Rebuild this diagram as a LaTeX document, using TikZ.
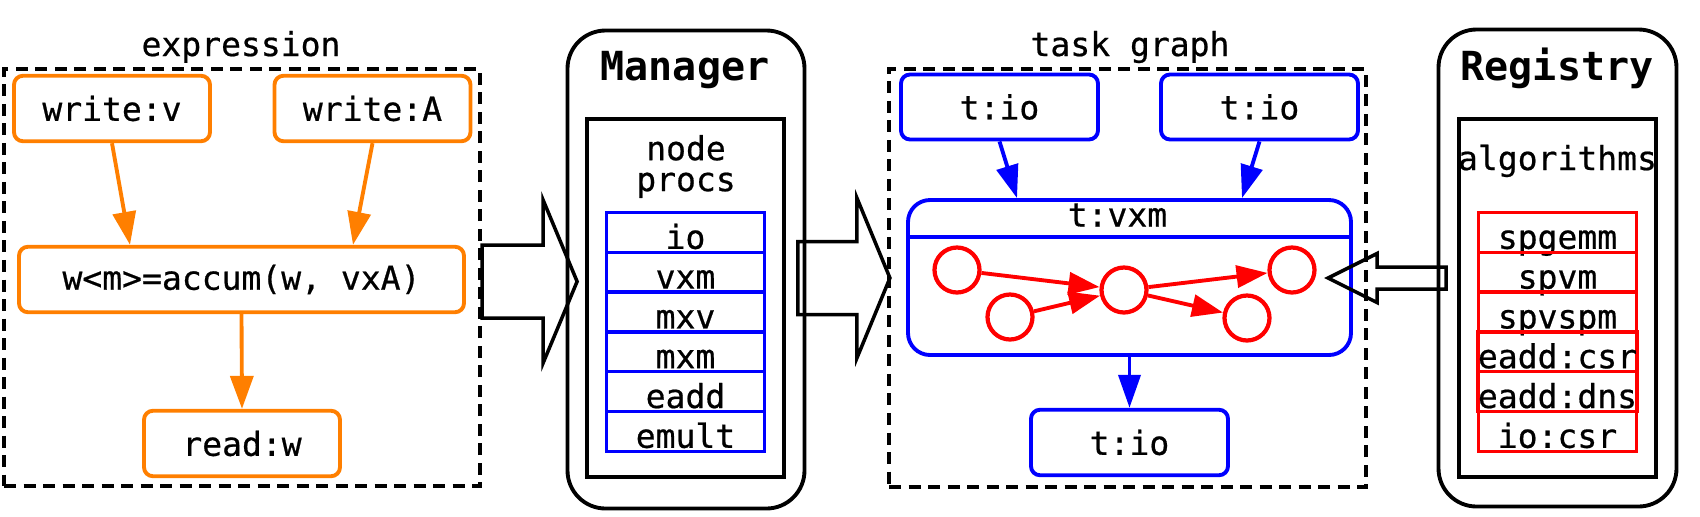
\documentclass[tikz,border=0pt]{standalone}
\usepackage{fontspec}
\setmonofont{DejaVu Sans Mono}[UprightFeatures={FakeBold=0.6}]
\usepackage{tikz}
\usetikzlibrary{positioning,arrows.meta,calc}
\definecolor{OpOrange}{RGB}{255,127,0}
\definecolor{TaskBlue}{RGB}{0,0,255}
\definecolor{AlgoRed}{RGB}{255,0,0}

\begin{document}
\begin{tikzpicture}[
  font=\ttfamily\fontsize{9.4}{11}\selectfont,
  opnode/.style={draw=OpOrange,line width=1.1pt,rounded corners=0.9mm,minimum width=1.96cm,minimum height=0.655cm,inner sep=0pt},
  tasknode/.style={draw=TaskBlue,line width=1.1pt,rounded corners=0.9mm,minimum width=1.97cm,minimum height=0.65cm,inner sep=0pt},
  dashbox/.style={draw,line width=1.2pt,dash pattern=on 1.2mm off 0.75mm},
  servicebox/.style={draw,line width=1.1pt,rounded corners=3.8mm},
  innerbox/.style={draw,line width=1.2pt,minimum width=1.97cm,minimum height=3.58cm},
  titletext/.style={anchor=base,font=\ttfamily\bfseries\fontsize{11.4}{13}\selectfont},
  cell/.style={minimum width=1.58cm,minimum height=0.398cm,inner sep=0pt,text height=0.328cm,text depth=0pt,line width=1pt},
  proccell/.style={cell,draw=TaskBlue},
  algocell/.style={cell,draw=AlgoRed},
  dagnode/.style={circle,draw=AlgoRed,line width=1.2pt,minimum size=0.45cm,inner sep=0pt},
  opflow/.style={-{Triangle[length=3.3mm,width=2.3mm]},line width=1.1pt,draw=OpOrange},
  taskflow/.style={-{Triangle[length=3.3mm,width=2.2mm]},line width=1.1pt,draw=TaskBlue},
  dagflow/.style={-{Triangle[length=3.1mm,width=2.2mm]},line width=1.1pt,draw=AlgoRed},
  fatarrow/.style={draw,line width=1pt,line join=miter}
]
\useasboundingbox (0,0) rectangle (17,-5.16);

% expression
\node[opnode] (writev) at (1.12,-1.085) {write:v};
\node[opnode] (writeA) at (3.725,-1.085) {write:A};
\node[opnode,minimum width=4.45cm] (accum) at (2.415,-2.795) {w<m>=accum(w, vxA)};
\node[opnode] (readw) at (2.42,-4.435) {read:w};
\draw[opflow] (writev.south) -- ($(accum.north)+(-1.115,0)$);
\draw[opflow] (writeA.south) -- ($(accum.north)+(1.115,0)$);
\draw[opflow] (accum.south) -- (readw.north);
\node[dashbox,minimum width=4.76cm,minimum height=4.17cm] (exprbox) at (2.42,-2.775) {};
\node[anchor=base] (exprlabel) at (2.41,-0.56) {expression};

% Manager
\node[servicebox,minimum width=2.37cm,minimum height=4.78cm] (manager) at (6.86,-2.695) {};
\node[titletext] (managertitle) at (6.85,-0.80) {Manager};
\node[innerbox] (procbox) at (6.855,-2.98) {};
\node[align=center,font=\ttfamily\fontsize{9.4}{8.8}\selectfont] (proclabel) at (6.86,-1.665) {node\\procs};
\foreach \lab [count=\k from 0] in {io,vxm,mxv,mxm,eadd,emult} {
  \node[proccell] (proc\k) at (6.855,{-2.324-0.398*\k}) {\lab};
}

% task graph
\node[tasknode] (tioa) at (9.995,-1.07) {t:io};
\node[tasknode] (tiob) at (12.595,-1.07) {t:io};
\node[tasknode,minimum width=4.43cm,minimum height=1.55cm,rounded corners=2.2mm] (tvxm) at (11.295,-2.775) {};
\draw[draw=TaskBlue,line width=1.1pt] ($(tvxm.north west)+(0,-0.385)$) -- ($(tvxm.north east)+(0,-0.385)$);
\node[anchor=base] (vxmlabel) at ($(tvxm.north)+(-0.12,-0.285)$) {t:vxm};
\node[tasknode,minimum height=0.655cm] (tioc) at (11.295,-4.425) {t:io};
\draw[taskflow] (tioa.south) -- ($(tvxm.north)+(-1.125,0)$);
\draw[taskflow] (tiob.south) -- ($(tvxm.north)+(1.125,0)$);
\draw[taskflow] (tvxm.south) -- (tioc.north);

\node[dagnode] (dagA) at (9.57,-2.70) {};
\node[dagnode] (dagB) at (10.10,-3.17) {};
\node[dagnode] (dagC) at (11.24,-2.90) {};
\node[dagnode] (dagD) at (12.92,-2.70) {};
\node[dagnode] (dagE) at (12.47,-3.18) {};
\draw[dagflow] (dagA) -- (dagC);
\draw[dagflow] (dagB) -- (dagC);
\draw[dagflow] (dagC) -- (dagD);
\draw[dagflow] (dagC) -- (dagE);

\node[dashbox,minimum width=4.77cm,minimum height=4.18cm] (graphbox) at (11.275,-2.78) {};
\node[anchor=base] (graphlabel) at (11.30,-0.56) {task graph};

% Registry
\node[servicebox,minimum width=2.38cm,minimum height=4.77cm] (registry) at (15.575,-2.68) {};
\node[titletext] (registrytitle) at (15.57,-0.80) {Registry};
\node[innerbox] (algobox) at (15.575,-2.98) {};
\node[anchor=base] (algolabel) at (15.575,-1.70) {algorithms};
\foreach \lab [count=\k from 0] in {spgemm,spvm,spvspm,eadd:csr,eadd:dns,io:csr} {
  \node[algocell] (algo\k) at (15.575,{-2.324-0.398*\k}) {\lab};
}

% big arrows
\coordinate (tomanager) at ($(exprbox.east)+(0,-0.04)$);
\draw[fatarrow] (tomanager) ++(0,0.365) -- ++(0.61,0) -- ++(0,0.45) -- ++(0.34,-0.815)
  -- ++(-0.34,-0.815) -- ++(0,0.45) -- ++(-0.61,0) -- cycle;
\coordinate (tograph) at ($(manager.east)+(-0.085,-0.085)$);
\draw[fatarrow] (tograph) ++(0,0.365) -- ++(0.59,0) -- ++(0,0.435) -- ++(0.33,-0.80)
  -- ++(-0.33,-0.80) -- ++(0,0.435) -- ++(-0.59,0) -- cycle;
\coordinate (fromregistry) at ($(registry.west)+(0.095,-0.10)$);
\draw[fatarrow] (fromregistry) ++(0,0.11) -- ++(-0.69,0) -- ++(0,0.135) -- ++(-0.49,-0.245)
  -- ++(0.49,-0.245) -- ++(0,0.135) -- ++(0.69,0) -- cycle;

\end{tikzpicture}
\end{document}
